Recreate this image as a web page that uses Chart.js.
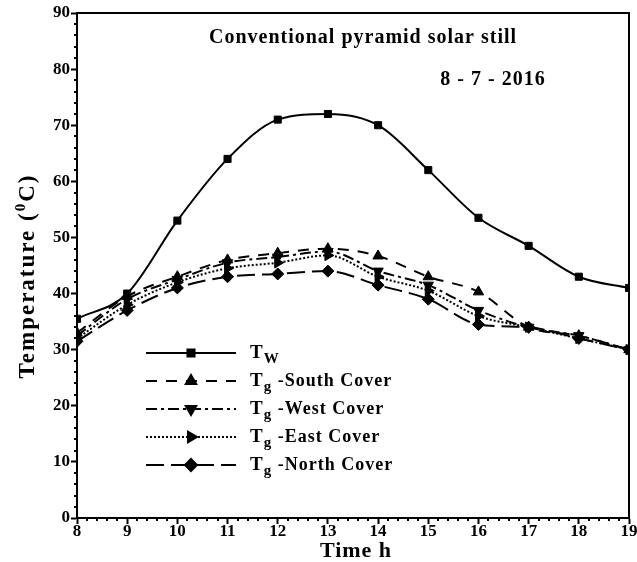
<!DOCTYPE html>
<html>
<head>
<meta charset="utf-8">
<script src="https://cdn.jsdelivr.net/npm/chart.js@4.4.1/dist/chart.umd.min.js"></script>
<style>
  html, body { margin: 0; padding: 0; background: #fff; }
  #wrap { width: 637px; height: 562px; position: relative; }
</style>
</head>
<body>
<div id="wrap"><canvas id="tempChart"></canvas></div>
<script>
// hours of the day
const hours = [8, 9, 10, 11, 12, 13, 14, 15, 16, 17, 18, 19];

// temperatures in degC
const waterTemp = [35.5, 40, 53, 64, 71, 72, 70, 62, 53.5, 48.5, 43, 41];
const southCover = [33, 39.5, 43, 46, 47.2, 48, 46.7, 43, 40.3, 34, 32.5, 30];
const westCover = [32.5, 39, 42.5, 45.5, 46.5, 47.5, 44, 41.5, 37, 34, 32.5, 30];
const eastCover = [32, 38, 42, 44.5, 45.5, 46.8, 43, 40.5, 36, 34, 32, 30];
const northCover = [31.5, 37, 41, 43, 43.5, 44, 41.5, 39, 34.5, 34, 32, 30];

// legend names: main letter + subscript + rest
const legendNames = [
    ["T", "W", ""],
    ["T", "g", " -South Cover"],
    ["T", "g", " -West Cover"],
    ["T", "g", " -East Cover"],
    ["T", "g", " -North Cover"]
];

const serif = "'Liberation Serif', 'Times New Roman', serif";

function toPoints(values) {
    return values.map((v, i) => ({ x: hours[i], y: v }));
}

function makeSet(values, dash, style, rotation) {
    return {
        data: toPoints(values),
        borderColor: "#000",
        backgroundColor: "#000",
        borderWidth: 2,
        borderDash: dash,
        pointStyle: style,
        pointRotation: rotation,
        pointRadius: style === "rect" ? 5 : 6,
        pointBorderWidth: 1,
        cubicInterpolationMode: "monotone"
    };
}

// frame, minor ticks, titles, axis labels and legend
const decorPlugin = {
    id: "decor",
    afterDraw(chart) {
        const ctx = chart.ctx;
        const area = chart.chartArea;
        const xs = chart.scales.x;
        const ys = chart.scales.y;
        ctx.save();
        ctx.strokeStyle = "#000";
        ctx.fillStyle = "#000";

        // top and right frame
        ctx.lineWidth = 2;
        ctx.beginPath();
        ctx.moveTo(area.left, area.top);
        ctx.lineTo(area.right, area.top);
        ctx.lineTo(area.right, area.bottom);
        ctx.stroke();

        // minor ticks
        ctx.beginPath();
        for (let v = 2; v < 90; v += 2) {
            if (v % 10 === 0) continue;
            const y = Math.round(ys.getPixelForValue(v));
            ctx.moveTo(area.left, y);
            ctx.lineTo(area.left - 3, y);
        }
        for (let k = 0; k < 55; k++) {
            if (k % 5 === 0) continue;
            const x = Math.round(xs.getPixelForValue(8 + k * 0.2));
            ctx.moveTo(x, area.bottom);
            ctx.lineTo(x, area.bottom + 3);
        }
        ctx.stroke();

        // titles inside the plot
        ctx.font = "bold 20px " + serif;
        ctx.letterSpacing = "1px";
        ctx.textAlign = "center";
        ctx.textBaseline = "middle";
        ctx.fillText("Conventional pyramid solar still", 363, 38);
        ctx.fillText("8 - 7 - 2016", 493, 80);

        // x axis title
        ctx.font = "bold 22px " + serif;
        ctx.letterSpacing = "1px";
        ctx.fillText("Time h", 356, 551);

        // y axis label with superscript
        ctx.translate(28, 276);
        ctx.rotate(-Math.PI / 2);
        ctx.textAlign = "left";
        ctx.textBaseline = "middle";
        ctx.letterSpacing = "2px";
        const bigFont = "bold 23px " + serif;
        const smallFont = "bold 15px " + serif;
        ctx.font = bigFont;
        const p1 = "Temperature (";
        const p2 = "C)";
        const w1 = ctx.measureText(p1).width;
        const w3 = ctx.measureText(p2).width;
        ctx.font = smallFont;
        const w2 = ctx.measureText("0").width;
        let x0 = -(w1 + w2 + w3) / 2;
        ctx.font = bigFont;
        ctx.fillText(p1, x0, 0);
        ctx.font = smallFont;
        ctx.fillText("0", x0 + w1, -7);
        ctx.font = bigFont;
        ctx.fillText(p2, x0 + w1 + w2, 0);
        ctx.setTransform(1, 0, 0, 1, 0, 0);

        // legend
        const rowY = [353, 381, 409, 437, 465];
        chart.data.datasets.forEach((ds, i) => {
            const y = rowY[i];
            ctx.lineWidth = 2;
            ctx.setLineDash(ds.borderDash || []);
            ctx.beginPath();
            ctx.moveTo(146, y);
            ctx.lineTo(236, y);
            ctx.stroke();
            ctx.setLineDash([]);
            Chart.helpers.drawPoint(ctx, {
                pointStyle: ds.pointStyle,
                rotation: ds.pointRotation || 0,
                radius: ds.pointRadius,
                borderWidth: 1
            }, 191, y);

            const parts = legendNames[i];
            ctx.textAlign = "left";
            ctx.textBaseline = "middle";
            ctx.letterSpacing = "1px";
            ctx.font = "bold 19px " + serif;
            ctx.fillText(parts[0], 250, y);
            let tx = 250 + ctx.measureText(parts[0]).width;
            ctx.font = "bold 15px " + serif;
            ctx.fillText(parts[1], tx, y + 6);
            tx += ctx.measureText(parts[1]).width;
            ctx.font = "bold 18px " + serif;
            ctx.fillText(parts[2], tx, y);
        });

        ctx.restore();
    }
};

new Chart(document.getElementById("tempChart"), {
    type: "line",
    data: {
        datasets: [
            makeSet(waterTemp, [], "rect", 0),
            makeSet(southCover, [11, 9], "triangle", 0),
            makeSet(westCover, [11, 4, 3, 4], "triangle", 180),
            makeSet(eastCover, [2, 2], "triangle", 90),
            makeSet(northCover, [18, 7], "rectRot", 0)
        ]
    },
    options: {
        responsive: true,
        maintainAspectRatio: false,
        animation: false,
        layout: { padding: { top: 13, right: 8, left: 0, bottom: 0 } },
        plugins: {
            legend: { display: false },
            tooltip: { enabled: false }
        },
        scales: {
            x: {
                type: "linear",
                min: 8,
                max: 19,
                afterFit: function (scale) { scale.height = 44; },
                ticks: {
                    stepSize: 1,
                    padding: -3,
                    color: "#000",
                    font: { family: serif, size: 17, weight: "bold" },
                    maxRotation: 0
                },
                grid: {
                    drawOnChartArea: false,
                    tickLength: 6,
                    tickWidth: 2,
                    tickColor: "#000"
                },
                border: { display: true, color: "#000", width: 2 }
            },
            y: {
                min: 0,
                max: 90,
                afterFit: function (scale) { scale.width = 77; },
                ticks: {
                    stepSize: 10,
                    padding: 1,
                    color: "#000",
                    font: { family: serif, size: 17, weight: "bold" }
                },
                grid: {
                    drawOnChartArea: false,
                    tickLength: 6,
                    tickWidth: 2,
                    tickColor: "#000"
                },
                border: { display: true, color: "#000", width: 2 }
            }
        }
    },
    plugins: [decorPlugin]
});
</script>
</body>
</html>
